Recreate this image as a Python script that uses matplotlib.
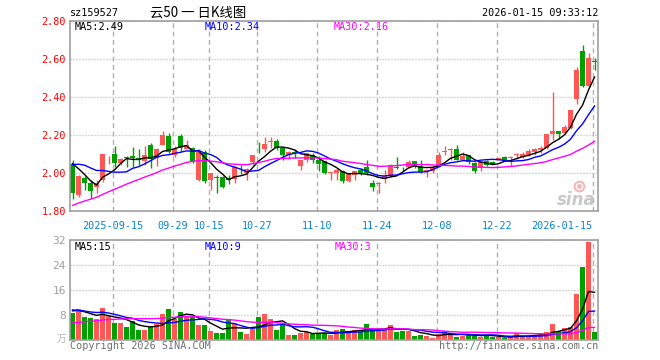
import matplotlib
matplotlib.use('Agg')
import matplotlib.pyplot as plt
from matplotlib.lines import Line2D
import numpy as np
import pandas as pd

# ---------------- data ----------------
holidays = ['2025-10-01', '2025-10-02', '2025-10-03', '2025-10-06', '2025-10-07',
            '2025-10-08', '2026-01-01', '2026-01-02']
opens = [2.050, 1.885, 1.973, 1.947, 1.924, 1.962, 2.072, 2.100, 2.055, 2.082,
         2.088, 2.080, 2.062, 2.145, 2.080, 2.150, 2.195, 2.097, 2.195, 2.127,
         2.132, 1.963, 2.112, 1.963, 1.979, 1.977, 1.972, 1.967, 2.027, 1.998,
         2.058, 2.144, 2.125, 2.162, 2.170, 2.130, 2.095, 2.109, 2.038, 2.066,
         2.097, 2.068, 2.061, 2.002, 2.000, 2.010, 1.958, 1.988, 2.017, 2.034,
         1.950, 1.944, 1.967, 1.982, 2.034, 2.026, 2.033, 2.063, 2.035, 2.003,
         2.008, 2.034, 2.113, 2.122, 2.124, 2.071, 2.097, 2.053, 2.027, 2.062,
         2.058, 2.071, 2.083, 2.078, 2.094, 2.085, 2.097, 2.110, 2.119, 2.133,
         2.204, 2.221, 2.209, 2.239, 2.389, 2.641, 2.457, 2.586]
highs = [2.070, 1.990, 1.984, 1.965, 1.965, 2.101, 2.090, 2.143, 2.080, 2.092,
         2.138, 2.124, 2.142, 2.159, 2.133, 2.221, 2.212, 2.142, 2.204, 2.173,
         2.136, 2.125, 2.121, 1.998, 1.990, 1.984, 1.990, 2.037, 2.042, 2.025,
         2.097, 2.165, 2.190, 2.188, 2.177, 2.135, 2.118, 2.125, 2.068, 2.105,
         2.103, 2.089, 2.062, 2.005, 2.027, 2.016, 2.002, 2.012, 2.027, 2.068,
         1.964, 1.955, 2.016, 2.050, 2.085, 2.033, 2.068, 2.065, 2.070, 2.021,
         2.035, 2.110, 2.142, 2.133, 2.145, 2.110, 2.097, 2.057, 2.065, 2.067,
         2.062, 2.080, 2.088, 2.088, 2.106, 2.110, 2.127, 2.133, 2.142, 2.204,
         2.425, 2.221, 2.251, 2.333, 2.558, 2.676, 2.634, 2.605]
lows = [1.865, 1.876, 1.910, 1.868, 1.897, 1.955, 2.050, 2.030, 2.044, 2.030,
        2.030, 2.044, 2.044, 2.027, 2.035, 2.150, 2.103, 2.085, 2.115, 2.124,
        2.053, 1.958, 1.946, 1.910, 1.897, 1.919, 1.942, 1.949, 1.995, 1.963,
        2.042, 2.104, 2.112, 2.130, 2.121, 2.068, 2.072, 2.077, 2.016, 2.060,
        2.055, 2.010, 1.996, 1.961, 1.961, 1.950, 1.955, 1.965, 1.989, 1.991,
        1.905, 1.893, 1.946, 1.980, 2.020, 2.010, 2.024, 2.028, 2.002, 1.977,
        2.002, 2.030, 2.097, 2.071, 2.068, 2.068, 2.050, 2.000, 2.009, 2.039,
        2.046, 2.067, 2.067, 2.035, 2.074, 2.080, 2.088, 2.097, 2.106, 2.128,
        2.172, 2.181, 2.204, 2.234, 2.363, 2.455, 2.451, 2.540]
closes = [1.897, 1.986, 1.950, 1.903, 1.947, 2.100, 2.074, 2.055, 2.073, 2.078,
          2.078, 2.071, 2.097, 2.074, 2.124, 2.200, 2.110, 2.127, 2.133, 2.150,
          2.060, 2.112, 1.958, 1.998, 1.975, 1.928, 1.965, 2.033, 2.024, 2.019,
          2.095, 2.140, 2.153, 2.165, 2.130, 2.095, 2.112, 2.105, 2.066, 2.103,
          2.071, 2.050, 2.001, 2.005, 2.016, 1.958, 1.998, 2.010, 2.002, 2.001,
          1.925, 1.947, 1.982, 2.043, 2.026, 2.024, 2.060, 2.036, 2.005, 2.018,
          2.031, 2.096, 2.117, 2.126, 2.071, 2.088, 2.057, 2.009, 2.062, 2.044,
          2.050, 2.080, 2.071, 2.080, 2.097, 2.101, 2.115, 2.124, 2.133, 2.204,
          2.221, 2.204, 2.244, 2.333, 2.543, 2.460, 2.605, 2.584]
# closes before the first visible day (needed for moving averages)
prior_closes = [1.62, 1.63, 1.62, 1.64, 1.65, 1.66, 1.65, 1.67, 1.68, 1.70,
                1.71, 1.72, 1.74, 1.76, 1.78, 1.80, 1.82, 1.84, 1.86, 1.90,
                1.96, 2.00, 2.05, 2.08, 2.10, 2.12, 2.10, 2.07, 2.06]
volumes = [8.5, 9.9, 7.3, 7.0, 6.7, 10.2, 7.7, 5.3, 5.3, 4.1,
           6.2, 3.2, 3.2, 4.3, 5.0, 8.3, 9.9, 6.8, 9.0, 7.3,
           7.3, 4.8, 4.8, 2.9, 2.4, 2.4, 6.6, 5.2, 2.7, 2.0,
           3.6, 7.4, 8.3, 6.7, 3.2, 5.0, 1.7, 1.7, 2.4, 2.5,
           2.0, 2.2, 2.2, 1.7, 3.1, 3.4, 2.9, 3.1, 2.5, 5.1,
           3.2, 3.4, 3.4, 4.8, 2.7, 3.0, 3.0, 1.3, 1.7, 1.3,
           0.75, 2.0, 2.9, 2.0, 0.96, 1.4, 1.8, 1.8, 1.07, 1.4,
           1.07, 0.85, 0.5, 1.07, 2.1, 1.3, 1.3, 1.4, 1.8, 2.6,
           5.1, 2.9, 3.9, 4.2, 14.7, 23.5, 31.4, 2.5]
prior_volumes = [2.0, 2.2, 2.5, 2.3, 2.6, 2.8, 3.0, 2.7, 3.2, 3.5,
                 3.3, 3.6, 3.8, 4.0, 4.2, 4.1, 4.5, 4.8, 5.0, 5.0,
                 8.0, 9.5, 10.0, 8.5, 9.0, 10.5, 9.5, 10.0, 9.5]
tick_dates = ['2025-09-15', '2025-09-29', '2025-10-15', '2025-10-27', '2025-11-10',
              '2025-11-24', '2025-12-08', '2025-12-22', '2026-01-15']
tick_labels = ['2025-09-15', '09-29', '10-15', '10-27', '11-10',
               '11-24', '12-08', '12-22', '2026-01-15']
code = 'sz159527'
title = '云50 一 日K线图'
stamp = '2026-01-15 09:33:12'
price_ma_labels = ['MA5:2.49', 'MA10:2.34', 'MA30:2.16']
vol_ma_labels = ['MA5:15', 'MA10:9', 'MA30:3']
price_ticks = [1.80, 2.00, 2.20, 2.40, 2.60, 2.80]
vol_ticks = [8, 16, 24, 32]

# ---------------- derived ----------------
dates = pd.bdate_range('2025-09-04', '2026-01-15')
dates = dates[~dates.isin(pd.to_datetime(holidays))]
n = len(closes)
x = np.arange(n)
o = np.array(opens); c = np.array(closes); h = np.array(highs); l = np.array(lows)
v = np.array(volumes)
up = c >= o

allc = pd.Series(prior_closes + closes)
ma = {k: allc.rolling(k).mean().values[-n:] for k in (5, 10, 30)}
allv = pd.Series(prior_volumes + volumes)
vma = {k: allv.rolling(k).mean().values[-n:] for k in (5, 10, 30)}

tick_idx = [int(np.where(dates == pd.Timestamp(d))[0][0]) for d in tick_dates]

RED = '#ff5656'
GREEN = '#00a000'
MA_COL = {5: 'black', 10: '#0000ff', 30: '#ff00ff'}
SPINE = '#a0a0a0'
MONO = 'DejaVu Sans Mono'

W, H = 660, 360
fig = plt.figure(figsize=(6.6, 3.6), dpi=100)
fig.patch.set_facecolor('white')


def fx(px):
    return px / W


def fy(py):
    return 1 - py / H


ax = fig.add_axes([fx(70), fy(211), 528 / W, 190 / H])
axv = fig.add_axes([fx(70), fy(340), 528 / W, 100 / H])

for a in (ax, axv):
    a.set_xlim(-0.42, n - 0.42)
    for s in a.spines.values():
        s.set_color(SPINE)
        s.set_linewidth(1.2)
    a.set_xticks([t - 0.3 for t in tick_idx])
    a.xaxis.grid(True, linestyle=(0, (3.5, 2.5)), color='#b0b0b0', linewidth=1)
    a.yaxis.grid(True, linestyle=(0, (0.8, 1.6)), color='#b0b0b0', linewidth=0.9)
    a.set_axisbelow(True)
    a.tick_params(length=0)

# candles
colors = np.where(up, RED, GREEN)
ax.vlines(x, l, h, colors=colors, linewidth=1)
body_lo = np.minimum(o, c)
body_h = np.maximum(np.abs(c - o), 0.004)
ax.bar(x, body_h, bottom=body_lo, width=0.8, color=colors, linewidth=0)
for k in (5, 10, 30):
    ax.plot(x, ma[k], color=MA_COL[k], linewidth=1)

ax.set_ylim(1.80, 2.80)
ax.set_yticks(price_ticks)
ax.set_yticklabels([f'{t:.2f}' for t in price_ticks], color='#ff0000',
                   fontfamily=MONO, fontsize=7.3)
ax.tick_params(axis='y', pad=3)
ax.set_xticklabels(tick_labels, color='#0a84d0', fontfamily=MONO, fontsize=7.3)
ax.tick_params(axis='x', pad=7)
ax.get_xticklabels()[-1].set_ha('right')
ax.get_xticklabels()[-1].set_x(tick_idx[-1])

# volume
axv.bar(x, v, width=0.8, color=colors, linewidth=0)
for k in (5, 10, 30):
    axv.plot(x, vma[k], color=MA_COL[k], linewidth=1)
axv.set_ylim(0, 32)
axv.set_yticks(vol_ticks)
axv.set_yticklabels([str(t) for t in vol_ticks], color='#a0a0a0',
                    fontfamily=MONO, fontsize=8)
axv.tick_params(axis='y', pad=3)
axv.set_xticklabels([])

# texts
fig.text(fx(70), fy(13), code, fontfamily=MONO, fontsize=7.3, va='center', ha='left')
fig.text(fx(150), fy(12.5), title, fontfamily=['Noto Sans CJK SC', 'DejaVu Sans'],
         fontsize=9.6, va='center', ha='left')
fig.text(fx(598), fy(13), stamp, fontfamily=MONO, fontsize=7.3, va='center', ha='right')

for lab, px, k in zip(price_ma_labels, (75, 205, 334), (5, 10, 30)):
    fig.text(fx(px), fy(26.5), lab, color=MA_COL[k], fontfamily=MONO, fontsize=7.3,
             va='center', ha='left')
for lab, px, k in zip(vol_ma_labels, (75, 205, 335), (5, 10, 30)):
    fig.text(fx(px), fy(246.5), lab, color=MA_COL[k], fontfamily=MONO, fontsize=7.3,
             va='center', ha='left')

fig.text(fx(66), fy(339), '万', color='#b8b8b8',
         fontfamily=['Noto Sans CJK SC', 'DejaVu Sans'], fontsize=7, va='center', ha='right')
fig.text(fx(70), fy(346), 'Copyright 2026 SINA.COM', color='#707070', fontfamily=MONO,
         fontsize=7.3, va='center', ha='left')
fig.text(fx(598), fy(346), 'http://finance.sina.com.cn', color='#707070', fontfamily=MONO,
         fontsize=7.3, va='center', ha='right')

# sina watermark
fig.text(fx(576), fy(200), 'sina', color='#c8c8c8', fontsize=12, fontweight='bold',
         fontstyle='italic', va='center', ha='center')
fig.add_artist(Line2D([fx(579)], [fy(186)], marker='o', markersize=7,
                      markerfacecolor='none', markeredgecolor='#f2b8b8',
                      markeredgewidth=1.5, linestyle='none', transform=fig.transFigure))
fig.add_artist(Line2D([fx(579)], [fy(186)], marker='o', markersize=2.5,
                      color='#f2b8b8', linestyle='none', transform=fig.transFigure))

fig.savefig('out.png', dpi=100, facecolor='white')
